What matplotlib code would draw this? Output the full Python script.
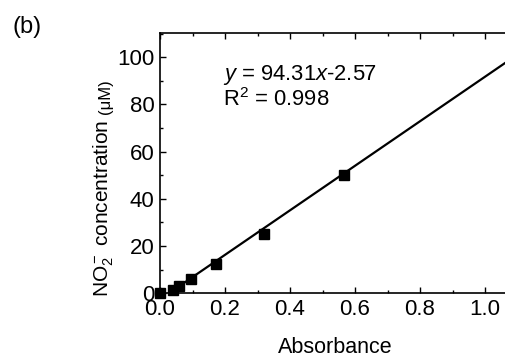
import matplotlib
matplotlib.use("Agg")
import matplotlib.pyplot as plt
import numpy as np
from matplotlib.ticker import MultipleLocator

plt.rcParams['font.family'] = ['Liberation Sans', 'DejaVu Sans']
plt.rcParams['mathtext.fontset'] = 'custom'
plt.rcParams['mathtext.rm'] = 'Liberation Sans'
plt.rcParams['mathtext.it'] = 'Liberation Sans:italic'
plt.rcParams['mathtext.bf'] = 'Liberation Sans:bold'

absorbance = [0.0, 0.041, 0.058, 0.094, 0.172, 0.321, 0.567]
concentration = [0.0, 1.5625, 3.125, 6.25, 12.5, 25.0, 50.0]
slope = 94.31
intercept = -2.57
xticks = [0.0, 0.2, 0.4, 0.6, 0.8, 1.0]
yticks = [0, 20, 40, 60, 80, 100]

W, H = 505, 358
fig = plt.figure(figsize=(W/100, H/100), dpi=100)
x0, x1 = 160, 160 + 1.2 * 325
y0, y1 = 293.3, 32.7
ax = fig.add_axes([x0/W, 1 - y0/H, (x1 - x0)/W, (y0 - y1)/H])

ax.plot(absorbance, concentration, 's', color='black', markersize=6.5, clip_on=False, zorder=3)
xl = np.array([0.0, 1.2])
ax.plot(xl, slope * xl + intercept, '-', color='black', lw=1.6)

ax.set_xlim(0, 1.2)
ax.set_ylim(0, 110.4)
ax.set_xticks(xticks)
ax.set_yticks(yticks)
ax.set_xticklabels([f"{v:.1f}" for v in xticks])
ax.xaxis.set_minor_locator(MultipleLocator(0.1))
ax.yaxis.set_minor_locator(MultipleLocator(10))
ax.tick_params(which='both', direction='in', top=True, right=True, labelsize=16, width=1.0)
ax.tick_params(axis='x', pad=4)
ax.tick_params(axis='y', pad=4)
ax.tick_params(which='major', length=4)
ax.tick_params(which='minor', length=2)
for s in ax.spines.values():
    s.set_linewidth(1.2)

ax.text(0.194, 90.5, "$y$ = 94.31$x$-2.57", fontsize=15.8, ha='left', va='baseline')
ax.text(0.194, 79.2, "R$^2$ = 0.998", fontsize=15.8, ha='left', va='baseline')

fig.text(335/W, 1 - 353/H, "Absorbance", fontsize=15.5, ha='center', va='baseline')
t1 = fig.text(116/W, 1 - 297/H, "NO$_2^-$ concentration", fontsize=15, rotation=90,
              ha='right', va='bottom')
fig.canvas.draw()
bb = t1.get_window_extent()
fig.text(113/W, (bb.y1 + 6)/H, "(μM)", fontsize=12, rotation=90, ha='right', va='bottom')

fig.text(13/W, 1 - 33/H, "(b)", fontsize=17, ha='left', va='baseline')

fig.savefig("out.png", dpi=100)
